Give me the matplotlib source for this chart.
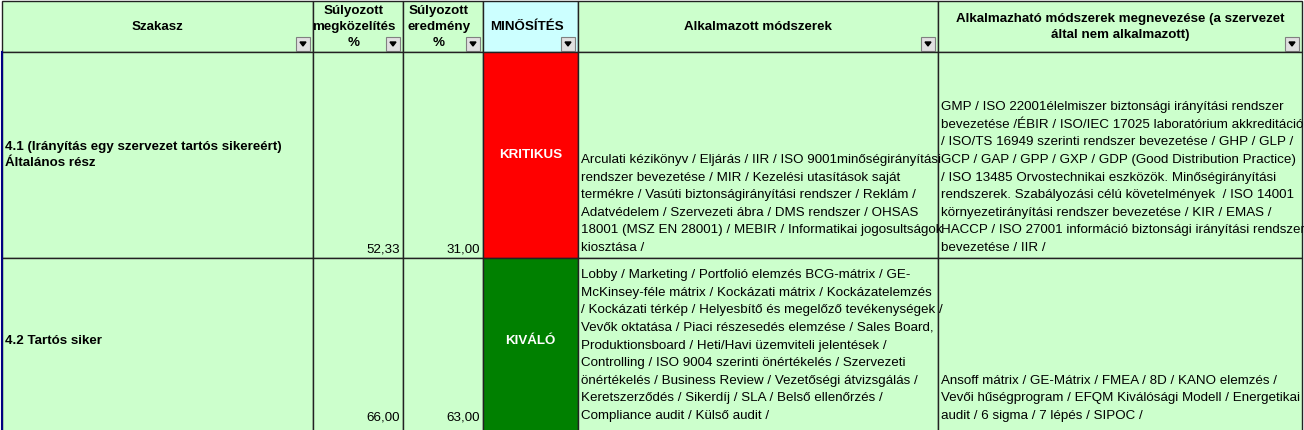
import matplotlib.pyplot as plt
from matplotlib.patches import Rectangle

plt.rcParams['font.family'] = ['Liberation Sans', 'DejaVu Sans']

# Table content
headers = ['Szakasz', 'Súlyozott\nmegközelítés\n%', 'Súlyozott\neredmény\n%', 'MINŐSÍTÉS',
           'Alkalmazott módszerek',
           'Alkalmazható módszerek megnevezése (a szervezet\náltal nem alkalmazott)']
sections = ['4.1 (Irányítás egy szervezet tartós sikereért)\nÁltalános rész', '4.2 Tartós siker']
approach = ['52,33', '66,00']
result = ['31,00', '63,00']
rating = ['KRITIKUS', 'KIVÁLÓ']
rating_colors = ['#FF0000', '#008000']
applied = [
    ['Arculati kézikönyv / Eljárás / IIR / ISO 9001minőségirányítási',
     'rendszer bevezetése / MIR / Kezelési utasítások saját',
     'termékre / Vasúti biztonságirányítási rendszer / Reklám /',
     'Adatvédelem / Szervezeti ábra / DMS rendszer / OHSAS',
     '18001 (MSZ EN 28001) / MEBIR / Informatikai jogosultságok',
     'kiosztása /'],
    ['Lobby / Marketing / Portfolió elemzés BCG-mátrix / GE-',
     'McKinsey-féle mátrix / Kockázati mátrix / Kockázatelemzés',
     '/ Kockázati térkép / Helyesbítő és megelőző tevékenységek /',
     'Vevők oktatása / Piaci részesedés elemzése / Sales Board,',
     'Produktionsboard / Heti/Havi üzemviteli jelentések /',
     'Controlling / ISO 9004 szerinti önértékelés / Szervezeti',
     'önértékelés / Business Review / Vezetőségi átvizsgálás /',
     'Keretszerződés / Sikerdíj / SLA / Belső ellenőrzés /',
     'Compliance audit / Külső audit /'],
]
applicable = [
    ['GMP / ISO 22001élelmiszer biztonsági irányítási rendszer',
     'bevezetése /ÉBIR / ISO/IEC 17025 laboratórium akkreditáció',
     '/ ISO/TS 16949 szerinti rendszer bevezetése / GHP / GLP /',
     'GCP / GAP / GPP / GXP / GDP (Good Distribution Practice)',
     '/ ISO 13485 Orvostechnikai eszközök. Minőségirányítási',
     'rendszerek. Szabályozási célú követelmények  / ISO 14001',
     'környezetirányítási rendszer bevezetése / KIR / EMAS /',
     'HACCP / ISO 27001 információ biztonsági irányítási rendszer',
     'bevezetése / IIR /'],
    ['Ansoff mátrix / GE-Mátrix / FMEA / 8D / KANO elemzés /',
     'Vevői hűségprogram / EFQM Kiválósági Modell / Energetikai',
     'audit / 6 sigma / 7 lépés / SIPOC /'],
]

cols = [2, 313, 403, 483, 578, 938, 1302]
rows = [1, 52, 258, 440]
green = '#CCFFCC'
cyan = '#CCFFFF'
fs = 9.6
lh = 17.6

fig = plt.figure(figsize=(13.04, 4.30), dpi=100)
ax = fig.add_axes([0, 0, 1, 1])
ax.set_xlim(0, 1304)
ax.set_ylim(430, 0)
ax.axis('off')
ax.add_patch(Rectangle((0, 0), 1304, 430, color='white'))

# header
for i in range(6):
    x0, x1 = cols[i], cols[i + 1]
    ax.add_patch(Rectangle((x0, rows[0]), x1 - x0, rows[1] - rows[0],
                           facecolor=cyan if i == 3 else green, edgecolor='#222222', lw=1))
    ax.text((x0 + x1) / 2 - (0 if i in (0, 4, 5) else 4), 27, headers[i], ha='center', va='center',
            fontsize=fs, fontweight='bold', linespacing=1.45)
    ax.add_patch(Rectangle((x1 - 17, 37), 14, 14, facecolor='#E0E0E0', edgecolor='#808080', lw=0.8))
    ax.fill([x1 - 13, x1 - 7, x1 - 10], [42, 42, 46], color='black')

# body rows
for r in range(2):
    y0, y1 = rows[r + 1], rows[r + 2]
    for i in range(6):
        x0, x1 = cols[i], cols[i + 1]
        fc = rating_colors[r] if i == 3 else green
        ax.add_patch(Rectangle((x0, y0), x1 - x0, y1 - y0, facecolor=fc, edgecolor='#222222', lw=1))
    bottom = 250 if r == 0 else 418
    mid = 155 if r == 0 else 341
    ax.text(cols[0] + 3, mid, sections[r], ha='left', va='center', fontsize=fs,
            fontweight='bold', linespacing=1.45)
    ax.text(cols[2] - 3, bottom, approach[r], ha='right', va='center', fontsize=fs)
    ax.text(cols[3] - 3, bottom, result[r], ha='right', va='center', fontsize=fs)
    ax.text((cols[3] + cols[4]) / 2, mid, rating[r], ha='center', va='center', fontsize=fs,
            fontweight='bold', color='white')
    for k, line in enumerate(reversed(applied[r])):
        ax.text(cols[4] + 3, bottom - 2 - k * lh, line, ha='left', va='center', fontsize=fs)
    for k, line in enumerate(reversed(applicable[r])):
        ax.text(cols[5] + 3, bottom - 2 - k * lh, line, ha='left', va='center', fontsize=fs)

ax.plot([2, 2], [52, 430], color='#000080', lw=1.5)

fig.savefig('out.png', dpi=100)
